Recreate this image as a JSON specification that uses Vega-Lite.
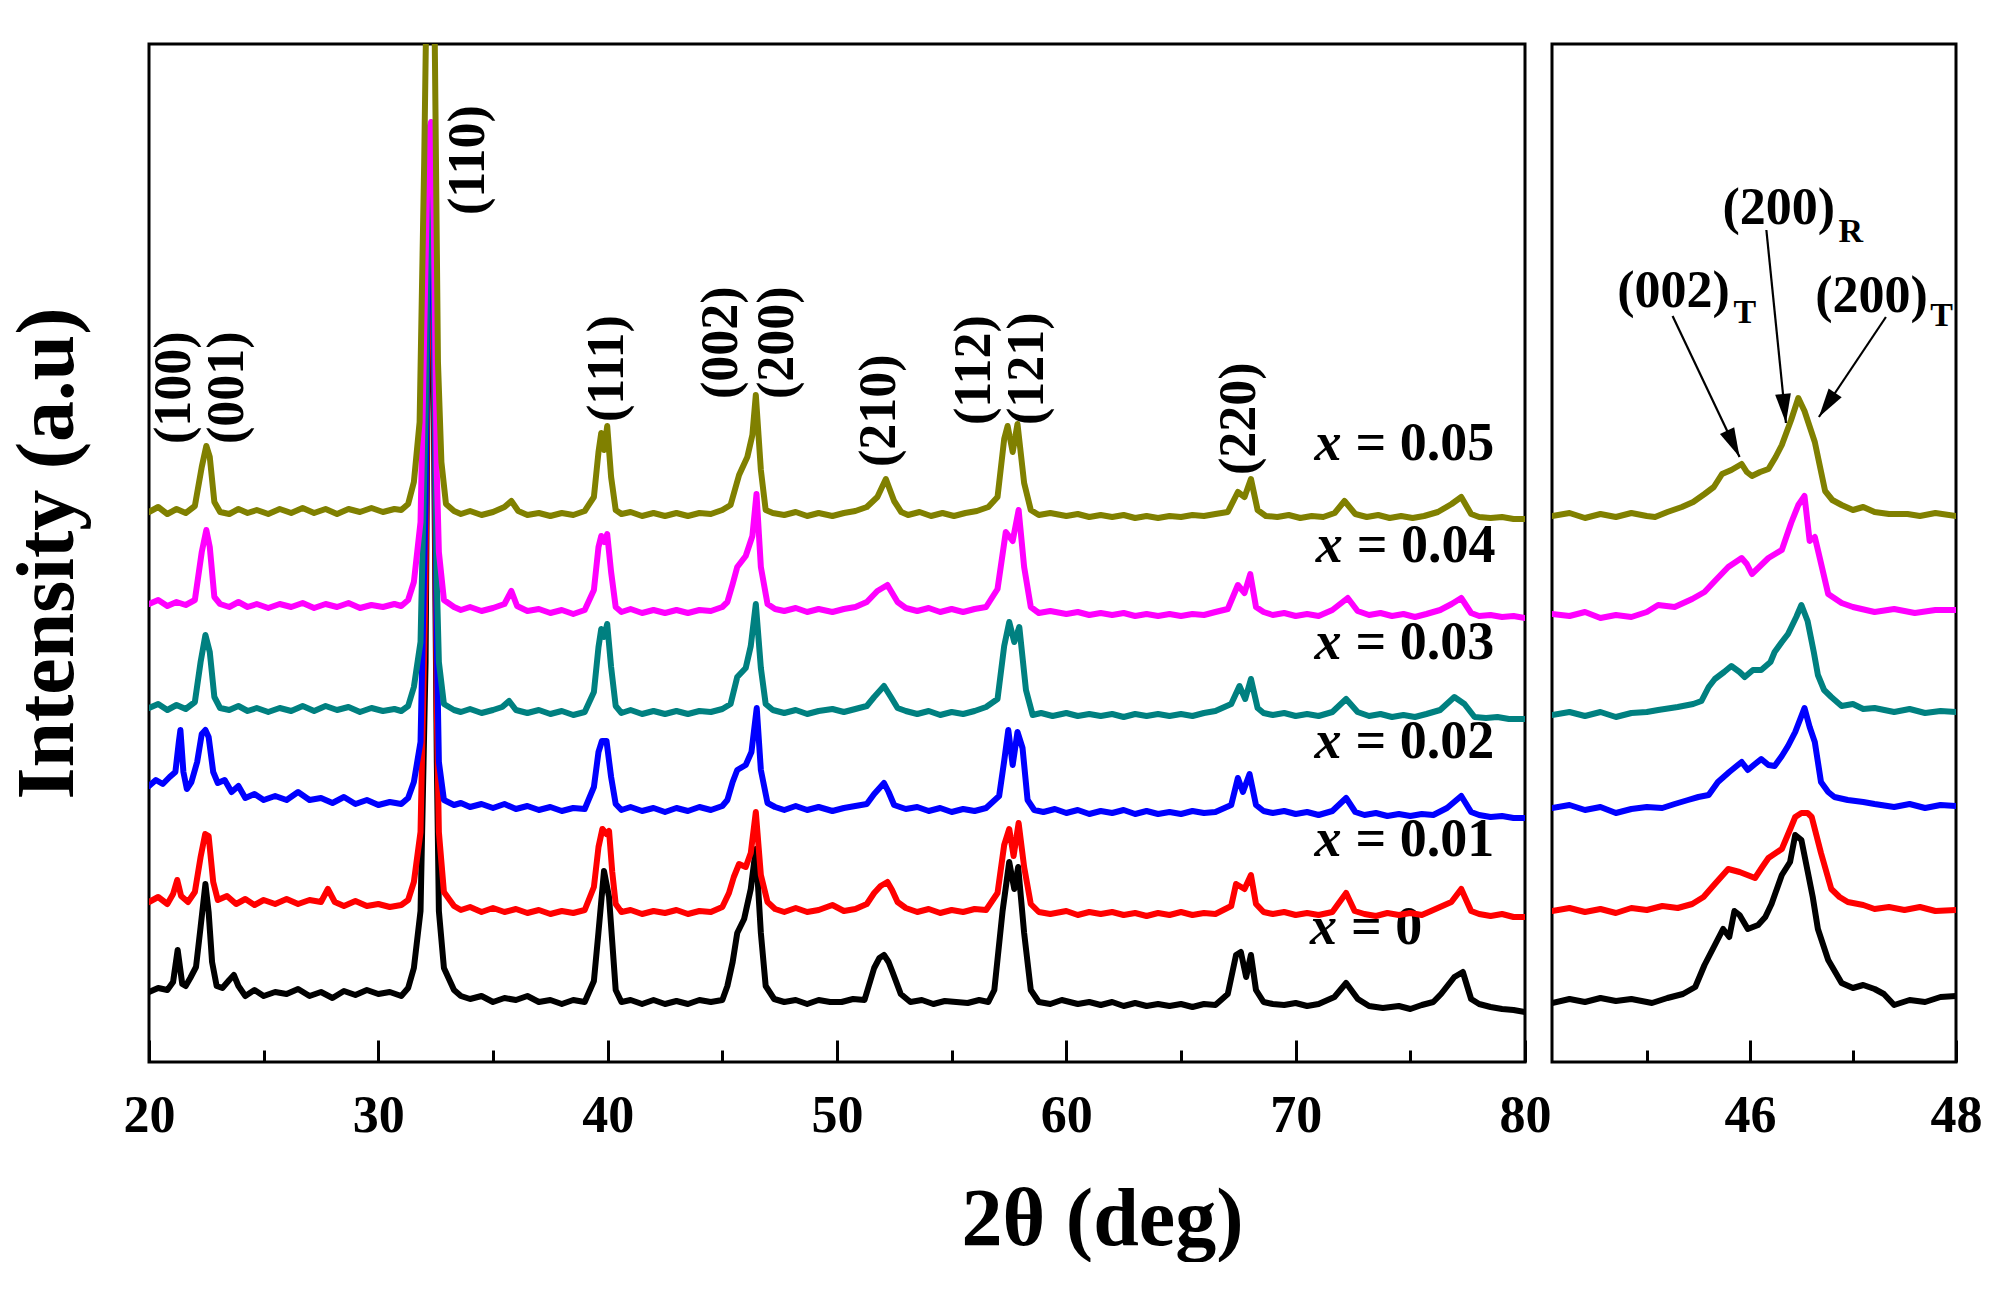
{
"$schema":"https://vega.github.io/schema/vega-lite/v6.json",
"padding":{"left":4,"top":42,"right":0,"bottom":0},
"background":"white",
"bounds":"flush",
"spacing":27,
"config":{
 "view":{"stroke":"black","strokeWidth":3},
 "axis":{"grid":false,"domain":false,"tickColor":"black","tickWidth":3,"labelColor":"black","labelFont":"Liberation Serif","labelFontWeight":"bold","labelFontSize":52,"titleFont":"Liberation Serif","titleFontWeight":"bold","titleFontSize":82,"titleColor":"black"},
 "text":{"font":"Liberation Serif","fontWeight":"bold","color":"black"}
},
"datasets":{
"peaks":[{"lab":"(100)","t":21.07,"y":618},{"lab":"(001)","t":23.4,"y":618},{"lab":"(110)","t":33.9,"y":847},{"lab":"(111)","t":39.95,"y":640},{"lab":"(002)","t":44.95,"y":663},{"lab":"(200)","t":47.37,"y":663},{"lab":"(210)","t":51.83,"y":595},{"lab":"(112)","t":55.98,"y":637},{"lab":"(121)","t":58.27,"y":637},{"lab":"(220)","t":67.55,"y":587}],
"slab":[{"lab":"= 0.05","t":72.0,"y":618},{"lab":"= 0.04","t":72.05,"y":516},{"lab":"= 0.03","t":72.0,"y":419},{"lab":"= 0.02","t":72.0,"y":320},{"lab":"= 0.01","t":72.0,"y":222},{"lab":"= 0","t":71.8,"y":134}],
"ilab":[{"lab":"(002)","t":45.26,"y":771},{"lab":"(200)","t":46.28,"y":854},{"lab":"(200)","t":47.18,"y":766}],
"isub":[{"lab":"T","t":45.95,"y":749},{"lab":"R","t":46.98,"y":830},{"lab":"T","t":47.86,"y":746}],
"arrows":[{"t1":45.25,"y1":746,"t2":45.9,"y2":605},{"t1":46.16,"y1":832,"t2":46.35,"y2":639},{"t1":47.32,"y1":745,"t2":46.67,"y2":645}],
"main":[
{"s":"0","t":20,"y":70},{"s":"0","t":20.4,"y":74},{"s":"0","t":20.8,"y":72},{"s":"0","t":21.05,"y":80},{"s":"0","t":21.25,"y":112},{"s":"0","t":21.45,"y":78},{"s":"0","t":21.6,"y":76},{"s":"0","t":21.8,"y":84},{"s":"0","t":22.05,"y":95},{"s":"0","t":22.25,"y":135},{"s":"0","t":22.46,"y":178},{"s":"0","t":22.6,"y":150},{"s":"0","t":22.75,"y":100},{"s":"0","t":22.95,"y":76},{"s":"0","t":23.2,"y":74},{"s":"0","t":23.5,"y":82},{"s":"0","t":23.7,"y":87},{"s":"0","t":23.9,"y":76},{"s":"0","t":24.2,"y":66},{"s":"0","t":24.6,"y":72},{"s":"0","t":25,"y":66},{"s":"0","t":25.5,"y":70},{"s":"0","t":26,"y":68},{"s":"0","t":26.5,"y":73},{"s":"0","t":27,"y":66},{"s":"0","t":27.5,"y":70},{"s":"0","t":28,"y":64},{"s":"0","t":28.5,"y":71},{"s":"0","t":29,"y":67},{"s":"0","t":29.5,"y":72},{"s":"0","t":30,"y":68},{"s":"0","t":30.5,"y":70},{"s":"0","t":31,"y":66},{"s":"0","t":31.3,"y":74},{"s":"0","t":31.55,"y":94},{"s":"0","t":31.84,"y":151},{"s":"0","t":32.06,"y":400},{"s":"0","t":32.18,"y":780},{"s":"0","t":32.3,"y":850},{"s":"0","t":32.42,"y":650},{"s":"0","t":32.55,"y":300},{"s":"0","t":32.64,"y":151},{"s":"0","t":32.86,"y":94},{"s":"0","t":33.3,"y":72},{"s":"0","t":33.6,"y":66},{"s":"0","t":34,"y":63},{"s":"0","t":34.5,"y":66},{"s":"0","t":35,"y":60},{"s":"0","t":35.5,"y":64},{"s":"0","t":36,"y":62},{"s":"0","t":36.5,"y":66},{"s":"0","t":37,"y":60},{"s":"0","t":37.5,"y":62},{"s":"0","t":38,"y":58},{"s":"0","t":38.5,"y":62},{"s":"0","t":39,"y":60},{"s":"0","t":39.4,"y":81},{"s":"0","t":39.6,"y":130},{"s":"0","t":39.84,"y":191},{"s":"0","t":40.06,"y":165},{"s":"0","t":40.2,"y":120},{"s":"0","t":40.35,"y":72},{"s":"0","t":40.6,"y":60},{"s":"0","t":41,"y":62},{"s":"0","t":41.5,"y":58},{"s":"0","t":42,"y":62},{"s":"0","t":42.5,"y":58},{"s":"0","t":43,"y":61},{"s":"0","t":43.5,"y":58},{"s":"0","t":44,"y":62},{"s":"0","t":44.5,"y":60},{"s":"0","t":45,"y":62},{"s":"0","t":45.22,"y":76},{"s":"0","t":45.45,"y":100},{"s":"0","t":45.65,"y":129},{"s":"0","t":45.95,"y":143},{"s":"0","t":46.24,"y":173},{"s":"0","t":46.46,"y":213},{"s":"0","t":46.68,"y":129},{"s":"0","t":46.89,"y":76},{"s":"0","t":47.26,"y":63},{"s":"0","t":47.7,"y":60},{"s":"0","t":48.2,"y":62},{"s":"0","t":48.7,"y":58},{"s":"0","t":49.2,"y":62},{"s":"0","t":49.7,"y":60},{"s":"0","t":50.2,"y":60},{"s":"0","t":50.7,"y":63},{"s":"0","t":51.2,"y":62},{"s":"0","t":51.62,"y":94},{"s":"0","t":51.85,"y":104},{"s":"0","t":52.05,"y":107},{"s":"0","t":52.25,"y":100},{"s":"0","t":52.42,"y":90},{"s":"0","t":52.78,"y":68},{"s":"0","t":53.2,"y":60},{"s":"0","t":53.7,"y":62},{"s":"0","t":54.2,"y":58},{"s":"0","t":54.7,"y":61},{"s":"0","t":55.2,"y":60},{"s":"0","t":55.7,"y":59},{"s":"0","t":56.2,"y":62},{"s":"0","t":56.6,"y":60},{"s":"0","t":56.86,"y":72},{"s":"0","t":57.22,"y":151},{"s":"0","t":57.51,"y":200},{"s":"0","t":57.73,"y":173},{"s":"0","t":57.9,"y":195},{"s":"0","t":58.16,"y":129},{"s":"0","t":58.45,"y":72},{"s":"0","t":58.8,"y":60},{"s":"0","t":59.3,"y":58},{"s":"0","t":59.8,"y":62},{"s":"0","t":60.5,"y":58},{"s":"0","t":61,"y":60},{"s":"0","t":61.5,"y":57},{"s":"0","t":62,"y":60},{"s":"0","t":62.5,"y":56},{"s":"0","t":63,"y":59},{"s":"0","t":63.5,"y":56},{"s":"0","t":64,"y":58},{"s":"0","t":64.5,"y":56},{"s":"0","t":65,"y":58},{"s":"0","t":65.5,"y":55},{"s":"0","t":66,"y":58},{"s":"0","t":66.5,"y":57},{"s":"0","t":67.04,"y":68},{"s":"0","t":67.4,"y":107},{"s":"0","t":67.61,"y":110},{"s":"0","t":67.84,"y":85},{"s":"0","t":68.05,"y":107},{"s":"0","t":68.27,"y":72},{"s":"0","t":68.6,"y":60},{"s":"0","t":69,"y":58},{"s":"0","t":69.5,"y":57},{"s":"0","t":70,"y":59},{"s":"0","t":70.5,"y":56},{"s":"0","t":71,"y":58},{"s":"0","t":71.69,"y":65},{"s":"0","t":72.2,"y":79},{"s":"0","t":72.71,"y":63},{"s":"0","t":73.2,"y":56},{"s":"0","t":73.8,"y":54},{"s":"0","t":74.5,"y":56},{"s":"0","t":75,"y":53},{"s":"0","t":75.5,"y":57},{"s":"0","t":76,"y":60},{"s":"0","t":76.34,"y":68},{"s":"0","t":76.92,"y":85},{"s":"0","t":77.29,"y":90},{"s":"0","t":77.65,"y":63},{"s":"0","t":78,"y":58},{"s":"0","t":78.5,"y":55},{"s":"0","t":79,"y":53},{"s":"0","t":79.5,"y":52},{"s":"0","t":80,"y":50},
{"s":"0.01","t":20,"y":160},{"s":"0.01","t":20.4,"y":165},{"s":"0.01","t":20.8,"y":158},{"s":"0.01","t":21.05,"y":168},{"s":"0.01","t":21.23,"y":182},{"s":"0.01","t":21.4,"y":166},{"s":"0.01","t":21.7,"y":160},{"s":"0.01","t":22.0,"y":170},{"s":"0.01","t":22.25,"y":205},{"s":"0.01","t":22.45,"y":228},{"s":"0.01","t":22.6,"y":226},{"s":"0.01","t":22.8,"y":180},{"s":"0.01","t":23.0,"y":162},{"s":"0.01","t":23.4,"y":166},{"s":"0.01","t":23.8,"y":158},{"s":"0.01","t":24.2,"y":163},{"s":"0.01","t":24.6,"y":157},{"s":"0.01","t":25,"y":162},{"s":"0.01","t":25.5,"y":158},{"s":"0.01","t":26,"y":163},{"s":"0.01","t":26.5,"y":158},{"s":"0.01","t":27,"y":162},{"s":"0.01","t":27.5,"y":160},{"s":"0.01","t":27.8,"y":173},{"s":"0.01","t":28.1,"y":160},{"s":"0.01","t":28.5,"y":156},{"s":"0.01","t":29,"y":161},{"s":"0.01","t":29.5,"y":156},{"s":"0.01","t":30,"y":158},{"s":"0.01","t":30.5,"y":155},{"s":"0.01","t":31,"y":157},{"s":"0.01","t":31.3,"y":162},{"s":"0.01","t":31.55,"y":180},{"s":"0.01","t":31.84,"y":230},{"s":"0.01","t":32.06,"y":480},{"s":"0.01","t":32.18,"y":800},{"s":"0.01","t":32.3,"y":860},{"s":"0.01","t":32.42,"y":700},{"s":"0.01","t":32.55,"y":350},{"s":"0.01","t":32.64,"y":230},{"s":"0.01","t":32.86,"y":170},{"s":"0.01","t":33.3,"y":156},{"s":"0.01","t":33.6,"y":152},{"s":"0.01","t":34,"y":155},{"s":"0.01","t":34.5,"y":150},{"s":"0.01","t":35,"y":154},{"s":"0.01","t":35.5,"y":150},{"s":"0.01","t":36,"y":153},{"s":"0.01","t":36.5,"y":149},{"s":"0.01","t":37,"y":152},{"s":"0.01","t":37.5,"y":148},{"s":"0.01","t":38,"y":151},{"s":"0.01","t":38.5,"y":149},{"s":"0.01","t":39,"y":152},{"s":"0.01","t":39.4,"y":175},{"s":"0.01","t":39.6,"y":215},{"s":"0.01","t":39.77,"y":233},{"s":"0.01","t":39.95,"y":228},{"s":"0.01","t":40.06,"y":231},{"s":"0.01","t":40.2,"y":190},{"s":"0.01","t":40.35,"y":158},{"s":"0.01","t":40.6,"y":150},{"s":"0.01","t":41,"y":152},{"s":"0.01","t":41.5,"y":148},{"s":"0.01","t":42,"y":151},{"s":"0.01","t":42.5,"y":149},{"s":"0.01","t":43,"y":152},{"s":"0.01","t":43.5,"y":148},{"s":"0.01","t":44,"y":151},{"s":"0.01","t":44.5,"y":150},{"s":"0.01","t":45,"y":155},{"s":"0.01","t":45.29,"y":169},{"s":"0.01","t":45.5,"y":185},{"s":"0.01","t":45.73,"y":198},{"s":"0.01","t":46.02,"y":195},{"s":"0.01","t":46.24,"y":209},{"s":"0.01","t":46.46,"y":250},{"s":"0.01","t":46.68,"y":187},{"s":"0.01","t":46.97,"y":160},{"s":"0.01","t":47.3,"y":153},{"s":"0.01","t":47.7,"y":150},{"s":"0.01","t":48.2,"y":154},{"s":"0.01","t":48.7,"y":150},{"s":"0.01","t":49.2,"y":152},{"s":"0.01","t":49.8,"y":157},{"s":"0.01","t":50.3,"y":151},{"s":"0.01","t":50.8,"y":153},{"s":"0.01","t":51.3,"y":158},{"s":"0.01","t":51.62,"y":169},{"s":"0.01","t":51.9,"y":176},{"s":"0.01","t":52.2,"y":180},{"s":"0.01","t":52.4,"y":172},{"s":"0.01","t":52.64,"y":160},{"s":"0.01","t":53,"y":154},{"s":"0.01","t":53.5,"y":150},{"s":"0.01","t":54,"y":153},{"s":"0.01","t":54.5,"y":149},{"s":"0.01","t":55,"y":152},{"s":"0.01","t":55.5,"y":150},{"s":"0.01","t":56,"y":153},{"s":"0.01","t":56.5,"y":152},{"s":"0.01","t":57.0,"y":169},{"s":"0.01","t":57.29,"y":217},{"s":"0.01","t":57.51,"y":233},{"s":"0.01","t":57.7,"y":206},{"s":"0.01","t":57.92,"y":239},{"s":"0.01","t":58.16,"y":195},{"s":"0.01","t":58.45,"y":158},{"s":"0.01","t":58.8,"y":150},{"s":"0.01","t":59.3,"y":148},{"s":"0.01","t":60,"y":151},{"s":"0.01","t":60.5,"y":147},{"s":"0.01","t":61,"y":150},{"s":"0.01","t":61.5,"y":148},{"s":"0.01","t":62,"y":150},{"s":"0.01","t":62.5,"y":147},{"s":"0.01","t":63,"y":149},{"s":"0.01","t":63.5,"y":146},{"s":"0.01","t":64,"y":149},{"s":"0.01","t":64.5,"y":147},{"s":"0.01","t":65,"y":150},{"s":"0.01","t":65.5,"y":147},{"s":"0.01","t":66,"y":149},{"s":"0.01","t":66.5,"y":148},{"s":"0.01","t":67.19,"y":156},{"s":"0.01","t":67.4,"y":178},{"s":"0.01","t":67.77,"y":173},{"s":"0.01","t":68.05,"y":187},{"s":"0.01","t":68.27,"y":158},{"s":"0.01","t":68.6,"y":150},{"s":"0.01","t":69,"y":148},{"s":"0.01","t":69.5,"y":150},{"s":"0.01","t":70,"y":147},{"s":"0.01","t":70.5,"y":149},{"s":"0.01","t":71,"y":147},{"s":"0.01","t":71.6,"y":150},{"s":"0.01","t":72.2,"y":169},{"s":"0.01","t":72.57,"y":151},{"s":"0.01","t":73,"y":148},{"s":"0.01","t":73.5,"y":146},{"s":"0.01","t":74,"y":149},{"s":"0.01","t":74.5,"y":147},{"s":"0.01","t":75,"y":149},{"s":"0.01","t":75.5,"y":147},{"s":"0.01","t":76,"y":152},{"s":"0.01","t":76.79,"y":160},{"s":"0.01","t":77.22,"y":173},{"s":"0.01","t":77.65,"y":151},{"s":"0.01","t":78,"y":148},{"s":"0.01","t":78.5,"y":146},{"s":"0.01","t":79,"y":148},{"s":"0.01","t":79.5,"y":145},{"s":"0.01","t":80,"y":145},
{"s":"0.02","t":20,"y":276},{"s":"0.02","t":20.3,"y":282},{"s":"0.02","t":20.6,"y":278},{"s":"0.02","t":20.9,"y":285},{"s":"0.02","t":21.15,"y":290},{"s":"0.02","t":21.3,"y":320},{"s":"0.02","t":21.37,"y":332},{"s":"0.02","t":21.5,"y":290},{"s":"0.02","t":21.65,"y":273},{"s":"0.02","t":21.85,"y":280},{"s":"0.02","t":22.1,"y":300},{"s":"0.02","t":22.3,"y":328},{"s":"0.02","t":22.46,"y":332},{"s":"0.02","t":22.6,"y":325},{"s":"0.02","t":22.8,"y":290},{"s":"0.02","t":23.0,"y":279},{"s":"0.02","t":23.3,"y":282},{"s":"0.02","t":23.6,"y":270},{"s":"0.02","t":23.9,"y":276},{"s":"0.02","t":24.2,"y":264},{"s":"0.02","t":24.6,"y":268},{"s":"0.02","t":25,"y":262},{"s":"0.02","t":25.5,"y":266},{"s":"0.02","t":26,"y":262},{"s":"0.02","t":26.5,"y":270},{"s":"0.02","t":27,"y":262},{"s":"0.02","t":27.5,"y":264},{"s":"0.02","t":28,"y":259},{"s":"0.02","t":28.5,"y":265},{"s":"0.02","t":29,"y":258},{"s":"0.02","t":29.5,"y":262},{"s":"0.02","t":30,"y":257},{"s":"0.02","t":30.5,"y":260},{"s":"0.02","t":31,"y":258},{"s":"0.02","t":31.3,"y":264},{"s":"0.02","t":31.55,"y":280},{"s":"0.02","t":31.84,"y":320},{"s":"0.02","t":32.06,"y":560},{"s":"0.02","t":32.18,"y":840},{"s":"0.02","t":32.3,"y":880},{"s":"0.02","t":32.42,"y":740},{"s":"0.02","t":32.55,"y":420},{"s":"0.02","t":32.64,"y":300},{"s":"0.02","t":32.86,"y":262},{"s":"0.02","t":33.3,"y":257},{"s":"0.02","t":33.6,"y":259},{"s":"0.02","t":34,"y":255},{"s":"0.02","t":34.5,"y":258},{"s":"0.02","t":35,"y":254},{"s":"0.02","t":35.5,"y":258},{"s":"0.02","t":36,"y":253},{"s":"0.02","t":36.5,"y":256},{"s":"0.02","t":37,"y":252},{"s":"0.02","t":37.5,"y":255},{"s":"0.02","t":38,"y":251},{"s":"0.02","t":38.5,"y":254},{"s":"0.02","t":39,"y":253},{"s":"0.02","t":39.4,"y":275},{"s":"0.02","t":39.6,"y":310},{"s":"0.02","t":39.75,"y":321},{"s":"0.02","t":39.95,"y":321},{"s":"0.02","t":40.15,"y":285},{"s":"0.02","t":40.35,"y":258},{"s":"0.02","t":40.6,"y":252},{"s":"0.02","t":41,"y":255},{"s":"0.02","t":41.5,"y":251},{"s":"0.02","t":42,"y":254},{"s":"0.02","t":42.5,"y":250},{"s":"0.02","t":43,"y":254},{"s":"0.02","t":43.5,"y":251},{"s":"0.02","t":44,"y":255},{"s":"0.02","t":44.5,"y":252},{"s":"0.02","t":45,"y":256},{"s":"0.02","t":45.22,"y":262},{"s":"0.02","t":45.45,"y":280},{"s":"0.02","t":45.65,"y":292},{"s":"0.02","t":46.02,"y":297},{"s":"0.02","t":46.27,"y":310},{"s":"0.02","t":46.5,"y":354},{"s":"0.02","t":46.68,"y":292},{"s":"0.02","t":46.97,"y":259},{"s":"0.02","t":47.3,"y":255},{"s":"0.02","t":47.7,"y":252},{"s":"0.02","t":48.2,"y":256},{"s":"0.02","t":48.7,"y":252},{"s":"0.02","t":49.2,"y":255},{"s":"0.02","t":49.8,"y":251},{"s":"0.02","t":50.3,"y":254},{"s":"0.02","t":50.8,"y":256},{"s":"0.02","t":51.3,"y":258},{"s":"0.02","t":51.62,"y":268},{"s":"0.02","t":52.05,"y":279},{"s":"0.02","t":52.25,"y":270},{"s":"0.02","t":52.49,"y":257},{"s":"0.02","t":53,"y":253},{"s":"0.02","t":53.5,"y":255},{"s":"0.02","t":54,"y":251},{"s":"0.02","t":54.5,"y":254},{"s":"0.02","t":55,"y":250},{"s":"0.02","t":55.5,"y":253},{"s":"0.02","t":56,"y":251},{"s":"0.02","t":56.5,"y":254},{"s":"0.02","t":57.07,"y":266},{"s":"0.02","t":57.29,"y":301},{"s":"0.02","t":57.47,"y":332},{"s":"0.02","t":57.66,"y":297},{"s":"0.02","t":57.87,"y":330},{"s":"0.02","t":58.09,"y":314},{"s":"0.02","t":58.31,"y":262},{"s":"0.02","t":58.6,"y":252},{"s":"0.02","t":59,"y":250},{"s":"0.02","t":59.5,"y":253},{"s":"0.02","t":60,"y":249},{"s":"0.02","t":60.5,"y":252},{"s":"0.02","t":61,"y":248},{"s":"0.02","t":61.5,"y":251},{"s":"0.02","t":62,"y":249},{"s":"0.02","t":62.5,"y":252},{"s":"0.02","t":63,"y":248},{"s":"0.02","t":63.5,"y":251},{"s":"0.02","t":64,"y":248},{"s":"0.02","t":64.5,"y":250},{"s":"0.02","t":65,"y":248},{"s":"0.02","t":65.5,"y":251},{"s":"0.02","t":66,"y":249},{"s":"0.02","t":66.5,"y":250},{"s":"0.02","t":67.19,"y":257},{"s":"0.02","t":67.48,"y":284},{"s":"0.02","t":67.7,"y":270},{"s":"0.02","t":67.99,"y":288},{"s":"0.02","t":68.27,"y":257},{"s":"0.02","t":68.6,"y":251},{"s":"0.02","t":69,"y":249},{"s":"0.02","t":69.5,"y":251},{"s":"0.02","t":70,"y":248},{"s":"0.02","t":70.5,"y":250},{"s":"0.02","t":71,"y":247},{"s":"0.02","t":71.6,"y":251},{"s":"0.02","t":72.2,"y":264},{"s":"0.02","t":72.6,"y":250},{"s":"0.02","t":73,"y":247},{"s":"0.02","t":73.5,"y":249},{"s":"0.02","t":74,"y":246},{"s":"0.02","t":74.5,"y":248},{"s":"0.02","t":75,"y":246},{"s":"0.02","t":75.5,"y":248},{"s":"0.02","t":76,"y":247},{"s":"0.02","t":76.6,"y":254},{"s":"0.02","t":77.22,"y":266},{"s":"0.02","t":77.65,"y":250},{"s":"0.02","t":78,"y":247},{"s":"0.02","t":78.5,"y":245},{"s":"0.02","t":79,"y":246},{"s":"0.02","t":79.5,"y":244},{"s":"0.02","t":80,"y":244},
{"s":"0.03","t":20,"y":354},{"s":"0.03","t":20.4,"y":358},{"s":"0.03","t":20.8,"y":352},{"s":"0.03","t":21.2,"y":357},{"s":"0.03","t":21.6,"y":353},{"s":"0.03","t":22.0,"y":360},{"s":"0.03","t":22.25,"y":400},{"s":"0.03","t":22.46,"y":427},{"s":"0.03","t":22.65,"y":410},{"s":"0.03","t":22.85,"y":365},{"s":"0.03","t":23.1,"y":354},{"s":"0.03","t":23.5,"y":352},{"s":"0.03","t":23.9,"y":356},{"s":"0.03","t":24.3,"y":351},{"s":"0.03","t":24.7,"y":354},{"s":"0.03","t":25.2,"y":350},{"s":"0.03","t":25.7,"y":354},{"s":"0.03","t":26.2,"y":351},{"s":"0.03","t":26.7,"y":356},{"s":"0.03","t":27.2,"y":351},{"s":"0.03","t":27.7,"y":356},{"s":"0.03","t":28.2,"y":352},{"s":"0.03","t":28.7,"y":355},{"s":"0.03","t":29.2,"y":350},{"s":"0.03","t":29.7,"y":354},{"s":"0.03","t":30.2,"y":351},{"s":"0.03","t":30.7,"y":353},{"s":"0.03","t":31,"y":351},{"s":"0.03","t":31.3,"y":356},{"s":"0.03","t":31.55,"y":375},{"s":"0.03","t":31.84,"y":420},{"s":"0.03","t":32.06,"y":650},{"s":"0.03","t":32.18,"y":870},{"s":"0.03","t":32.3,"y":900},{"s":"0.03","t":32.42,"y":780},{"s":"0.03","t":32.55,"y":480},{"s":"0.03","t":32.64,"y":400},{"s":"0.03","t":32.86,"y":358},{"s":"0.03","t":33.3,"y":352},{"s":"0.03","t":33.6,"y":350},{"s":"0.03","t":34,"y":353},{"s":"0.03","t":34.5,"y":349},{"s":"0.03","t":35,"y":352},{"s":"0.03","t":35.4,"y":355},{"s":"0.03","t":35.7,"y":361},{"s":"0.03","t":36,"y":352},{"s":"0.03","t":36.5,"y":349},{"s":"0.03","t":37,"y":352},{"s":"0.03","t":37.5,"y":348},{"s":"0.03","t":38,"y":351},{"s":"0.03","t":38.5,"y":347},{"s":"0.03","t":39,"y":350},{"s":"0.03","t":39.4,"y":370},{"s":"0.03","t":39.6,"y":415},{"s":"0.03","t":39.72,"y":433},{"s":"0.03","t":39.84,"y":425},{"s":"0.03","t":39.98,"y":438},{"s":"0.03","t":40.15,"y":395},{"s":"0.03","t":40.35,"y":356},{"s":"0.03","t":40.6,"y":349},{"s":"0.03","t":41,"y":352},{"s":"0.03","t":41.5,"y":348},{"s":"0.03","t":42,"y":351},{"s":"0.03","t":42.5,"y":348},{"s":"0.03","t":43,"y":351},{"s":"0.03","t":43.5,"y":348},{"s":"0.03","t":44,"y":351},{"s":"0.03","t":44.5,"y":350},{"s":"0.03","t":45,"y":353},{"s":"0.03","t":45.36,"y":358},{"s":"0.03","t":45.65,"y":385},{"s":"0.03","t":46.02,"y":394},{"s":"0.03","t":46.24,"y":416},{"s":"0.03","t":46.46,"y":458},{"s":"0.03","t":46.68,"y":394},{"s":"0.03","t":46.89,"y":358},{"s":"0.03","t":47.2,"y":352},{"s":"0.03","t":47.7,"y":349},{"s":"0.03","t":48.2,"y":352},{"s":"0.03","t":48.7,"y":348},{"s":"0.03","t":49.2,"y":351},{"s":"0.03","t":49.8,"y":353},{"s":"0.03","t":50.3,"y":350},{"s":"0.03","t":50.8,"y":353},{"s":"0.03","t":51.3,"y":356},{"s":"0.03","t":51.62,"y":365},{"s":"0.03","t":52.05,"y":376},{"s":"0.03","t":52.35,"y":365},{"s":"0.03","t":52.64,"y":354},{"s":"0.03","t":53,"y":351},{"s":"0.03","t":53.5,"y":348},{"s":"0.03","t":54,"y":351},{"s":"0.03","t":54.5,"y":347},{"s":"0.03","t":55,"y":350},{"s":"0.03","t":55.5,"y":348},{"s":"0.03","t":56,"y":351},{"s":"0.03","t":56.5,"y":355},{"s":"0.03","t":57.0,"y":363},{"s":"0.03","t":57.29,"y":416},{"s":"0.03","t":57.51,"y":440},{"s":"0.03","t":57.73,"y":420},{"s":"0.03","t":57.95,"y":435},{"s":"0.03","t":58.24,"y":372},{"s":"0.03","t":58.53,"y":347},{"s":"0.03","t":58.9,"y":349},{"s":"0.03","t":59.4,"y":346},{"s":"0.03","t":60,"y":349},{"s":"0.03","t":60.5,"y":346},{"s":"0.03","t":61,"y":348},{"s":"0.03","t":61.5,"y":346},{"s":"0.03","t":62,"y":348},{"s":"0.03","t":62.5,"y":345},{"s":"0.03","t":63,"y":348},{"s":"0.03","t":63.5,"y":346},{"s":"0.03","t":64,"y":348},{"s":"0.03","t":64.5,"y":346},{"s":"0.03","t":65,"y":348},{"s":"0.03","t":65.5,"y":346},{"s":"0.03","t":66,"y":349},{"s":"0.03","t":66.5,"y":351},{"s":"0.03","t":67.19,"y":358},{"s":"0.03","t":67.55,"y":376},{"s":"0.03","t":67.8,"y":363},{"s":"0.03","t":68.05,"y":383},{"s":"0.03","t":68.34,"y":354},{"s":"0.03","t":68.6,"y":349},{"s":"0.03","t":69,"y":347},{"s":"0.03","t":69.5,"y":349},{"s":"0.03","t":70,"y":346},{"s":"0.03","t":70.5,"y":348},{"s":"0.03","t":71,"y":346},{"s":"0.03","t":71.6,"y":350},{"s":"0.03","t":72.2,"y":363},{"s":"0.03","t":72.7,"y":350},{"s":"0.03","t":73.2,"y":346},{"s":"0.03","t":73.7,"y":348},{"s":"0.03","t":74.2,"y":345},{"s":"0.03","t":74.7,"y":347},{"s":"0.03","t":75.2,"y":345},{"s":"0.03","t":75.7,"y":348},{"s":"0.03","t":76.3,"y":352},{"s":"0.03","t":76.92,"y":365},{"s":"0.03","t":77.36,"y":358},{"s":"0.03","t":77.8,"y":345},{"s":"0.03","t":78.3,"y":344},{"s":"0.03","t":78.8,"y":345},{"s":"0.03","t":79.3,"y":343},{"s":"0.03","t":80,"y":343},
{"s":"0.04","t":20,"y":458},{"s":"0.04","t":20.4,"y":462},{"s":"0.04","t":20.8,"y":456},{"s":"0.04","t":21.2,"y":460},{"s":"0.04","t":21.6,"y":457},{"s":"0.04","t":22.0,"y":462},{"s":"0.04","t":22.3,"y":510},{"s":"0.04","t":22.5,"y":532},{"s":"0.04","t":22.65,"y":515},{"s":"0.04","t":22.85,"y":465},{"s":"0.04","t":23.1,"y":458},{"s":"0.04","t":23.5,"y":455},{"s":"0.04","t":23.9,"y":460},{"s":"0.04","t":24.3,"y":455},{"s":"0.04","t":24.7,"y":458},{"s":"0.04","t":25.2,"y":454},{"s":"0.04","t":25.7,"y":458},{"s":"0.04","t":26.2,"y":455},{"s":"0.04","t":26.7,"y":459},{"s":"0.04","t":27.2,"y":454},{"s":"0.04","t":27.7,"y":458},{"s":"0.04","t":28.2,"y":455},{"s":"0.04","t":28.7,"y":459},{"s":"0.04","t":29.2,"y":454},{"s":"0.04","t":29.7,"y":457},{"s":"0.04","t":30.2,"y":455},{"s":"0.04","t":30.7,"y":458},{"s":"0.04","t":31,"y":456},{"s":"0.04","t":31.3,"y":462},{"s":"0.04","t":31.55,"y":480},{"s":"0.04","t":31.84,"y":540},{"s":"0.04","t":32.06,"y":800},{"s":"0.04","t":32.18,"y":930},{"s":"0.04","t":32.3,"y":940},{"s":"0.04","t":32.42,"y":840},{"s":"0.04","t":32.55,"y":590},{"s":"0.04","t":32.64,"y":510},{"s":"0.04","t":32.86,"y":462},{"s":"0.04","t":33.3,"y":455},{"s":"0.04","t":33.6,"y":452},{"s":"0.04","t":34,"y":455},{"s":"0.04","t":34.5,"y":451},{"s":"0.04","t":35,"y":454},{"s":"0.04","t":35.5,"y":458},{"s":"0.04","t":35.8,"y":471},{"s":"0.04","t":36.05,"y":456},{"s":"0.04","t":36.5,"y":451},{"s":"0.04","t":37,"y":453},{"s":"0.04","t":37.5,"y":449},{"s":"0.04","t":38,"y":452},{"s":"0.04","t":38.5,"y":448},{"s":"0.04","t":39,"y":452},{"s":"0.04","t":39.4,"y":472},{"s":"0.04","t":39.6,"y":515},{"s":"0.04","t":39.72,"y":526},{"s":"0.04","t":39.85,"y":520},{"s":"0.04","t":39.98,"y":528},{"s":"0.04","t":40.15,"y":490},{"s":"0.04","t":40.35,"y":455},{"s":"0.04","t":40.6,"y":450},{"s":"0.04","t":41,"y":453},{"s":"0.04","t":41.5,"y":449},{"s":"0.04","t":42,"y":452},{"s":"0.04","t":42.5,"y":449},{"s":"0.04","t":43,"y":452},{"s":"0.04","t":43.5,"y":449},{"s":"0.04","t":44,"y":452},{"s":"0.04","t":44.5,"y":451},{"s":"0.04","t":45,"y":455},{"s":"0.04","t":45.22,"y":460},{"s":"0.04","t":45.45,"y":478},{"s":"0.04","t":45.65,"y":495},{"s":"0.04","t":46.02,"y":506},{"s":"0.04","t":46.31,"y":526},{"s":"0.04","t":46.49,"y":568},{"s":"0.04","t":46.68,"y":495},{"s":"0.04","t":46.97,"y":458},{"s":"0.04","t":47.3,"y":453},{"s":"0.04","t":47.7,"y":451},{"s":"0.04","t":48.2,"y":454},{"s":"0.04","t":48.7,"y":450},{"s":"0.04","t":49.2,"y":453},{"s":"0.04","t":49.8,"y":450},{"s":"0.04","t":50.3,"y":453},{"s":"0.04","t":50.8,"y":455},{"s":"0.04","t":51.3,"y":460},{"s":"0.04","t":51.76,"y":471},{"s":"0.04","t":52.2,"y":477},{"s":"0.04","t":52.64,"y":460},{"s":"0.04","t":53,"y":454},{"s":"0.04","t":53.5,"y":451},{"s":"0.04","t":54,"y":454},{"s":"0.04","t":54.5,"y":450},{"s":"0.04","t":55,"y":453},{"s":"0.04","t":55.5,"y":450},{"s":"0.04","t":56,"y":453},{"s":"0.04","t":56.5,"y":455},{"s":"0.04","t":57.0,"y":473},{"s":"0.04","t":57.36,"y":530},{"s":"0.04","t":57.66,"y":521},{"s":"0.04","t":57.92,"y":552},{"s":"0.04","t":58.16,"y":495},{"s":"0.04","t":58.45,"y":455},{"s":"0.04","t":58.8,"y":449},{"s":"0.04","t":59.3,"y":451},{"s":"0.04","t":60,"y":448},{"s":"0.04","t":60.5,"y":450},{"s":"0.04","t":61,"y":447},{"s":"0.04","t":61.5,"y":449},{"s":"0.04","t":62,"y":447},{"s":"0.04","t":62.5,"y":449},{"s":"0.04","t":63,"y":446},{"s":"0.04","t":63.5,"y":448},{"s":"0.04","t":64,"y":446},{"s":"0.04","t":64.5,"y":448},{"s":"0.04","t":65,"y":446},{"s":"0.04","t":65.5,"y":448},{"s":"0.04","t":66,"y":447},{"s":"0.04","t":66.5,"y":450},{"s":"0.04","t":67.04,"y":453},{"s":"0.04","t":67.48,"y":477},{"s":"0.04","t":67.77,"y":469},{"s":"0.04","t":68.02,"y":488},{"s":"0.04","t":68.27,"y":455},{"s":"0.04","t":68.6,"y":450},{"s":"0.04","t":69,"y":447},{"s":"0.04","t":69.5,"y":449},{"s":"0.04","t":70,"y":446},{"s":"0.04","t":70.5,"y":448},{"s":"0.04","t":71,"y":446},{"s":"0.04","t":71.6,"y":452},{"s":"0.04","t":72.27,"y":464},{"s":"0.04","t":72.7,"y":451},{"s":"0.04","t":73.2,"y":447},{"s":"0.04","t":73.7,"y":449},{"s":"0.04","t":74.2,"y":446},{"s":"0.04","t":74.7,"y":448},{"s":"0.04","t":75.2,"y":445},{"s":"0.04","t":75.7,"y":448},{"s":"0.04","t":76.3,"y":452},{"s":"0.04","t":76.8,"y":458},{"s":"0.04","t":77.22,"y":464},{"s":"0.04","t":77.65,"y":449},{"s":"0.04","t":78,"y":446},{"s":"0.04","t":78.5,"y":447},{"s":"0.04","t":79,"y":445},{"s":"0.04","t":79.5,"y":446},{"s":"0.04","t":80,"y":444},
{"s":"0.05","t":20,"y":550},{"s":"0.05","t":20.4,"y":555},{"s":"0.05","t":20.8,"y":548},{"s":"0.05","t":21.2,"y":553},{"s":"0.05","t":21.6,"y":549},{"s":"0.05","t":22.0,"y":556},{"s":"0.05","t":22.3,"y":595},{"s":"0.05","t":22.5,"y":616},{"s":"0.05","t":22.65,"y":605},{"s":"0.05","t":22.85,"y":560},{"s":"0.05","t":23.1,"y":550},{"s":"0.05","t":23.5,"y":548},{"s":"0.05","t":23.9,"y":553},{"s":"0.05","t":24.3,"y":549},{"s":"0.05","t":24.7,"y":552},{"s":"0.05","t":25.2,"y":548},{"s":"0.05","t":25.7,"y":553},{"s":"0.05","t":26.2,"y":549},{"s":"0.05","t":26.7,"y":554},{"s":"0.05","t":27.2,"y":549},{"s":"0.05","t":27.7,"y":553},{"s":"0.05","t":28.2,"y":548},{"s":"0.05","t":28.7,"y":553},{"s":"0.05","t":29.2,"y":550},{"s":"0.05","t":29.7,"y":554},{"s":"0.05","t":30.2,"y":550},{"s":"0.05","t":30.7,"y":553},{"s":"0.05","t":31,"y":552},{"s":"0.05","t":31.3,"y":558},{"s":"0.05","t":31.55,"y":580},{"s":"0.05","t":31.8,"y":640},{"s":"0.05","t":32.0,"y":900},{"s":"0.05","t":32.12,"y":1100},{"s":"0.05","t":32.25,"y":1250},{"s":"0.05","t":32.35,"y":1250},{"s":"0.05","t":32.47,"y":1000},{"s":"0.05","t":32.6,"y":700},{"s":"0.05","t":32.75,"y":600},{"s":"0.05","t":32.95,"y":558},{"s":"0.05","t":33.3,"y":551},{"s":"0.05","t":33.6,"y":548},{"s":"0.05","t":34,"y":551},{"s":"0.05","t":34.5,"y":547},{"s":"0.05","t":35,"y":550},{"s":"0.05","t":35.5,"y":555},{"s":"0.05","t":35.8,"y":561},{"s":"0.05","t":36.1,"y":551},{"s":"0.05","t":36.5,"y":547},{"s":"0.05","t":37,"y":549},{"s":"0.05","t":37.5,"y":546},{"s":"0.05","t":38,"y":549},{"s":"0.05","t":38.5,"y":547},{"s":"0.05","t":39,"y":551},{"s":"0.05","t":39.4,"y":565},{"s":"0.05","t":39.6,"y":610},{"s":"0.05","t":39.72,"y":629},{"s":"0.05","t":39.85,"y":612},{"s":"0.05","t":39.98,"y":636},{"s":"0.05","t":40.15,"y":585},{"s":"0.05","t":40.35,"y":552},{"s":"0.05","t":40.6,"y":548},{"s":"0.05","t":41,"y":550},{"s":"0.05","t":41.5,"y":546},{"s":"0.05","t":42,"y":549},{"s":"0.05","t":42.5,"y":546},{"s":"0.05","t":43,"y":549},{"s":"0.05","t":43.5,"y":546},{"s":"0.05","t":44,"y":549},{"s":"0.05","t":44.5,"y":548},{"s":"0.05","t":45,"y":552},{"s":"0.05","t":45.36,"y":557},{"s":"0.05","t":45.73,"y":587},{"s":"0.05","t":46.09,"y":605},{"s":"0.05","t":46.31,"y":627},{"s":"0.05","t":46.46,"y":667},{"s":"0.05","t":46.68,"y":592},{"s":"0.05","t":46.89,"y":552},{"s":"0.05","t":47.2,"y":549},{"s":"0.05","t":47.7,"y":547},{"s":"0.05","t":48.2,"y":550},{"s":"0.05","t":48.7,"y":546},{"s":"0.05","t":49.2,"y":549},{"s":"0.05","t":49.8,"y":546},{"s":"0.05","t":50.3,"y":549},{"s":"0.05","t":50.8,"y":551},{"s":"0.05","t":51.3,"y":555},{"s":"0.05","t":51.76,"y":565},{"s":"0.05","t":52.13,"y":583},{"s":"0.05","t":52.49,"y":561},{"s":"0.05","t":52.8,"y":550},{"s":"0.05","t":53.1,"y":547},{"s":"0.05","t":53.6,"y":550},{"s":"0.05","t":54.1,"y":546},{"s":"0.05","t":54.6,"y":549},{"s":"0.05","t":55.1,"y":546},{"s":"0.05","t":55.6,"y":549},{"s":"0.05","t":56.1,"y":551},{"s":"0.05","t":56.6,"y":555},{"s":"0.05","t":57.0,"y":565},{"s":"0.05","t":57.29,"y":623},{"s":"0.05","t":57.44,"y":636},{"s":"0.05","t":57.66,"y":610},{"s":"0.05","t":57.87,"y":638},{"s":"0.05","t":58.16,"y":579},{"s":"0.05","t":58.45,"y":552},{"s":"0.05","t":58.8,"y":547},{"s":"0.05","t":59.3,"y":549},{"s":"0.05","t":60,"y":546},{"s":"0.05","t":60.5,"y":548},{"s":"0.05","t":61,"y":545},{"s":"0.05","t":61.5,"y":547},{"s":"0.05","t":62,"y":545},{"s":"0.05","t":62.5,"y":547},{"s":"0.05","t":63,"y":544},{"s":"0.05","t":63.5,"y":546},{"s":"0.05","t":64,"y":544},{"s":"0.05","t":64.5,"y":546},{"s":"0.05","t":65,"y":545},{"s":"0.05","t":65.5,"y":547},{"s":"0.05","t":66,"y":546},{"s":"0.05","t":66.5,"y":548},{"s":"0.05","t":67.04,"y":550},{"s":"0.05","t":67.48,"y":570},{"s":"0.05","t":67.77,"y":565},{"s":"0.05","t":68.05,"y":583},{"s":"0.05","t":68.34,"y":552},{"s":"0.05","t":68.7,"y":546},{"s":"0.05","t":69.2,"y":545},{"s":"0.05","t":69.7,"y":547},{"s":"0.05","t":70.2,"y":544},{"s":"0.05","t":70.7,"y":546},{"s":"0.05","t":71.2,"y":545},{"s":"0.05","t":71.7,"y":549},{"s":"0.05","t":72.13,"y":561},{"s":"0.05","t":72.6,"y":548},{"s":"0.05","t":73.1,"y":545},{"s":"0.05","t":73.6,"y":547},{"s":"0.05","t":74.1,"y":544},{"s":"0.05","t":74.6,"y":546},{"s":"0.05","t":75.1,"y":544},{"s":"0.05","t":75.6,"y":546},{"s":"0.05","t":76.2,"y":550},{"s":"0.05","t":76.8,"y":558},{"s":"0.05","t":77.22,"y":565},{"s":"0.05","t":77.65,"y":548},{"s":"0.05","t":78,"y":545},{"s":"0.05","t":78.5,"y":544},{"s":"0.05","t":79,"y":545},{"s":"0.05","t":79.5,"y":543},{"s":"0.05","t":80,"y":543}
],
"ins":[
{"s":"0","t":44.08,"y":59},{"s":"0","t":44.25,"y":63},{"s":"0","t":44.4,"y":60},{"s":"0","t":44.55,"y":64},{"s":"0","t":44.7,"y":61},{"s":"0","t":44.85,"y":63},{"s":"0","t":45.05,"y":59},{"s":"0","t":45.2,"y":64},{"s":"0","t":45.35,"y":68},{"s":"0","t":45.47,"y":75},{"s":"0","t":45.56,"y":97},{"s":"0","t":45.65,"y":115},{"s":"0","t":45.74,"y":133},{"s":"0","t":45.8,"y":125},{"s":"0","t":45.85,"y":151},{"s":"0","t":45.9,"y":147},{"s":"0","t":45.98,"y":133},{"s":"0","t":46.08,"y":137},{"s":"0","t":46.15,"y":145},{"s":"0","t":46.21,"y":158},{"s":"0","t":46.31,"y":187},{"s":"0","t":46.39,"y":200},{"s":"0","t":46.44,"y":227},{"s":"0","t":46.5,"y":222},{"s":"0","t":46.56,"y":191},{"s":"0","t":46.61,"y":165},{"s":"0","t":46.66,"y":133},{"s":"0","t":46.76,"y":102},{"s":"0","t":46.89,"y":79},{"s":"0","t":47.0,"y":74},{"s":"0","t":47.1,"y":77},{"s":"0","t":47.21,"y":73},{"s":"0","t":47.3,"y":68},{"s":"0","t":47.4,"y":57},{"s":"0","t":47.55,"y":62},{"s":"0","t":47.7,"y":60},{"s":"0","t":47.85,"y":65},{"s":"0","t":48,"y":66},
{"s":"0.01","t":44.08,"y":151},{"s":"0.01","t":44.25,"y":154},{"s":"0.01","t":44.4,"y":150},{"s":"0.01","t":44.55,"y":153},{"s":"0.01","t":44.7,"y":149},{"s":"0.01","t":44.85,"y":154},{"s":"0.01","t":45.0,"y":152},{"s":"0.01","t":45.15,"y":156},{"s":"0.01","t":45.3,"y":154},{"s":"0.01","t":45.44,"y":158},{"s":"0.01","t":45.55,"y":165},{"s":"0.01","t":45.66,"y":178},{"s":"0.01","t":45.79,"y":193},{"s":"0.01","t":45.9,"y":190},{"s":"0.01","t":46.05,"y":184},{"s":"0.01","t":46.12,"y":195},{"s":"0.01","t":46.18,"y":204},{"s":"0.01","t":46.31,"y":213},{"s":"0.01","t":46.4,"y":235},{"s":"0.01","t":46.44,"y":245},{"s":"0.01","t":46.5,"y":249},{"s":"0.01","t":46.56,"y":249},{"s":"0.01","t":46.6,"y":245},{"s":"0.01","t":46.69,"y":209},{"s":"0.01","t":46.79,"y":173},{"s":"0.01","t":46.87,"y":165},{"s":"0.01","t":46.95,"y":160},{"s":"0.01","t":47.1,"y":157},{"s":"0.01","t":47.21,"y":153},{"s":"0.01","t":47.35,"y":155},{"s":"0.01","t":47.5,"y":152},{"s":"0.01","t":47.65,"y":155},{"s":"0.01","t":47.8,"y":151},{"s":"0.01","t":48,"y":152},
{"s":"0.02","t":44.08,"y":254},{"s":"0.02","t":44.25,"y":257},{"s":"0.02","t":44.4,"y":252},{"s":"0.02","t":44.55,"y":255},{"s":"0.02","t":44.7,"y":249},{"s":"0.02","t":44.85,"y":253},{"s":"0.02","t":45.0,"y":255},{"s":"0.02","t":45.15,"y":254},{"s":"0.02","t":45.27,"y":258},{"s":"0.02","t":45.4,"y":262},{"s":"0.02","t":45.5,"y":265},{"s":"0.02","t":45.6,"y":267},{"s":"0.02","t":45.69,"y":280},{"s":"0.02","t":45.8,"y":290},{"s":"0.02","t":45.92,"y":300},{"s":"0.02","t":45.98,"y":292},{"s":"0.02","t":46.05,"y":298},{"s":"0.02","t":46.11,"y":303},{"s":"0.02","t":46.18,"y":297},{"s":"0.02","t":46.24,"y":296},{"s":"0.02","t":46.31,"y":306},{"s":"0.02","t":46.37,"y":316},{"s":"0.02","t":46.44,"y":330},{"s":"0.02","t":46.47,"y":338},{"s":"0.02","t":46.53,"y":354},{"s":"0.02","t":46.58,"y":335},{"s":"0.02","t":46.63,"y":320},{"s":"0.02","t":46.69,"y":280},{"s":"0.02","t":46.76,"y":270},{"s":"0.02","t":46.82,"y":265},{"s":"0.02","t":46.95,"y":262},{"s":"0.02","t":47.1,"y":260},{"s":"0.02","t":47.21,"y":258},{"s":"0.02","t":47.4,"y":255},{"s":"0.02","t":47.55,"y":258},{"s":"0.02","t":47.7,"y":254},{"s":"0.02","t":47.85,"y":257},{"s":"0.02","t":48,"y":256},
{"s":"0.03","t":44.08,"y":347},{"s":"0.03","t":44.25,"y":350},{"s":"0.03","t":44.4,"y":346},{"s":"0.03","t":44.55,"y":350},{"s":"0.03","t":44.7,"y":345},{"s":"0.03","t":44.85,"y":349},{"s":"0.03","t":45.0,"y":350},{"s":"0.03","t":45.11,"y":352},{"s":"0.03","t":45.3,"y":355},{"s":"0.03","t":45.45,"y":358},{"s":"0.03","t":45.53,"y":361},{"s":"0.03","t":45.6,"y":375},{"s":"0.03","t":45.66,"y":383},{"s":"0.03","t":45.75,"y":390},{"s":"0.03","t":45.82,"y":396},{"s":"0.03","t":45.9,"y":390},{"s":"0.03","t":45.95,"y":385},{"s":"0.03","t":46.03,"y":392},{"s":"0.03","t":46.11,"y":392},{"s":"0.03","t":46.2,"y":400},{"s":"0.03","t":46.24,"y":410},{"s":"0.03","t":46.31,"y":420},{"s":"0.03","t":46.37,"y":428},{"s":"0.03","t":46.45,"y":445},{"s":"0.03","t":46.5,"y":457},{"s":"0.03","t":46.56,"y":441},{"s":"0.03","t":46.62,"y":410},{"s":"0.03","t":46.66,"y":387},{"s":"0.03","t":46.72,"y":372},{"s":"0.03","t":46.79,"y":365},{"s":"0.03","t":46.89,"y":356},{"s":"0.03","t":47.0,"y":358},{"s":"0.03","t":47.1,"y":353},{"s":"0.03","t":47.21,"y":354},{"s":"0.03","t":47.4,"y":350},{"s":"0.03","t":47.55,"y":353},{"s":"0.03","t":47.7,"y":349},{"s":"0.03","t":47.85,"y":351},{"s":"0.03","t":48,"y":350},
{"s":"0.04","t":44.08,"y":448},{"s":"0.04","t":44.25,"y":446},{"s":"0.04","t":44.4,"y":450},{"s":"0.04","t":44.55,"y":444},{"s":"0.04","t":44.7,"y":447},{"s":"0.04","t":44.85,"y":445},{"s":"0.04","t":45.0,"y":450},{"s":"0.04","t":45.11,"y":457},{"s":"0.04","t":45.27,"y":455},{"s":"0.04","t":45.44,"y":463},{"s":"0.04","t":45.56,"y":470},{"s":"0.04","t":45.66,"y":481},{"s":"0.04","t":45.79,"y":495},{"s":"0.04","t":45.92,"y":504},{"s":"0.04","t":45.97,"y":498},{"s":"0.04","t":46.02,"y":488},{"s":"0.04","t":46.1,"y":496},{"s":"0.04","t":46.18,"y":504},{"s":"0.04","t":46.31,"y":512},{"s":"0.04","t":46.4,"y":539},{"s":"0.04","t":46.47,"y":557},{"s":"0.04","t":46.53,"y":566},{"s":"0.04","t":46.58,"y":521},{"s":"0.04","t":46.63,"y":525},{"s":"0.04","t":46.66,"y":512},{"s":"0.04","t":46.76,"y":468},{"s":"0.04","t":46.89,"y":459},{"s":"0.04","t":47.0,"y":455},{"s":"0.04","t":47.21,"y":450},{"s":"0.04","t":47.4,"y":453},{"s":"0.04","t":47.6,"y":449},{"s":"0.04","t":47.8,"y":452},{"s":"0.04","t":48,"y":452},
{"s":"0.05","t":44.08,"y":546},{"s":"0.05","t":44.25,"y":549},{"s":"0.05","t":44.4,"y":544},{"s":"0.05","t":44.55,"y":548},{"s":"0.05","t":44.7,"y":545},{"s":"0.05","t":44.85,"y":549},{"s":"0.05","t":45.0,"y":546},{"s":"0.05","t":45.08,"y":545},{"s":"0.05","t":45.2,"y":550},{"s":"0.05","t":45.34,"y":555},{"s":"0.05","t":45.45,"y":560},{"s":"0.05","t":45.56,"y":568},{"s":"0.05","t":45.65,"y":575},{"s":"0.05","t":45.73,"y":588},{"s":"0.05","t":45.82,"y":592},{"s":"0.05","t":45.92,"y":598},{"s":"0.05","t":45.97,"y":590},{"s":"0.05","t":46.02,"y":586},{"s":"0.05","t":46.1,"y":590},{"s":"0.05","t":46.18,"y":593},{"s":"0.05","t":46.25,"y":605},{"s":"0.05","t":46.31,"y":617},{"s":"0.05","t":46.4,"y":642},{"s":"0.05","t":46.47,"y":664},{"s":"0.05","t":46.53,"y":651},{"s":"0.05","t":46.63,"y":620},{"s":"0.05","t":46.73,"y":571},{"s":"0.05","t":46.8,"y":562},{"s":"0.05","t":46.89,"y":557},{"s":"0.05","t":47.0,"y":552},{"s":"0.05","t":47.1,"y":555},{"s":"0.05","t":47.21,"y":550},{"s":"0.05","t":47.35,"y":548},{"s":"0.05","t":47.53,"y":548},{"s":"0.05","t":47.65,"y":546},{"s":"0.05","t":47.8,"y":549},{"s":"0.05","t":48,"y":546}
]
},
"hconcat":[
{"width":1376,"height":1018,
 "resolve":{"axis":{"x":"independent"}},
 "layer":[
  {"data":{"name":"peaks"},
   "mark":{"type":"text","angle":270,"align":"left","baseline":"middle","fontSize":52},
   "encoding":{
    "x":{"field":"t","type":"quantitative","scale":{"domain":[20,80],"nice":false,"zero":false},"axis":{"orient":"bottom","values":[25,35,45,55,65,75],"tickSize":-12,"labels":false,"title":null}},
    "y":{"field":"y","type":"quantitative","scale":{"domain":[0,1018],"nice":false,"zero":false},"axis":{"title":"Intensity (a.u)","ticks":false,"labels":false,"titlePadding":60}},
    "text":{"field":"lab","type":"nominal"}}},
  {"data":{"name":"slab"},
   "mark":{"type":"text","align":"right","baseline":"middle","fontSize":54,"fontStyle":"italic","text":"x"},
   "encoding":{
    "x":{"field":"t","type":"quantitative","scale":{"domain":[20,80],"nice":false,"zero":false},"axis":null},
    "y":{"field":"y","type":"quantitative","scale":{"domain":[0,1018],"nice":false,"zero":false},"axis":{"title":"Intensity (a.u)","ticks":false,"labels":false,"titlePadding":60}}}},
  {"data":{"name":"slab"},
   "mark":{"type":"text","align":"left","baseline":"middle","fontSize":54,"dx":14},
   "encoding":{
    "x":{"field":"t","type":"quantitative","scale":{"domain":[20,80],"nice":false,"zero":false},"axis":null},
    "y":{"field":"y","type":"quantitative","scale":{"domain":[0,1018],"nice":false,"zero":false},"axis":{"title":"Intensity (a.u)","ticks":false,"labels":false,"titlePadding":60}},
    "text":{"field":"lab","type":"nominal"}}},
  {"data":{"name":"main"},
   "mark":{"type":"line","clip":true,"strokeWidth":6,"strokeJoin":"round","strokeCap":"round"},
   "encoding":{
    "x":{"field":"t","type":"quantitative","scale":{"domain":[20,80],"nice":false,"zero":false},"axis":{"orient":"bottom","values":[20,30,40,50,60,70,80],"format":"d","tickSize":-22,"labelPadding":50,"labelFlush":false,"labelOverlap":false,"title":"2θ (deg)","titleX":953,"titleY":117}},
    "y":{"field":"y","type":"quantitative","scale":{"domain":[0,1018],"nice":false,"zero":false},"axis":{"title":"Intensity (a.u)","ticks":false,"labels":false,"titlePadding":60}},
    "color":{"field":"s","type":"nominal","scale":{"domain":["0","0.01","0.02","0.03","0.04","0.05"],"range":["#000000","#ff0000","#0000ff","#008080","#ff00ff","#808000"]},"legend":null}}}
 ]},
{"width":404,"height":1018,
 "resolve":{"axis":{"x":"independent"}},
 "layer":[
  {"data":{"name":"ilab"},
   "mark":{"type":"text","align":"center","baseline":"middle","fontSize":52},
   "encoding":{
    "x":{"field":"t","type":"quantitative","scale":{"domain":[44.08,48],"nice":false,"zero":false},"axis":{"orient":"bottom","values":[45,47],"tickSize":-12,"labels":false,"title":null}},
    "y":{"field":"y","type":"quantitative","scale":{"domain":[0,1018],"nice":false,"zero":false},"axis":null},
    "text":{"field":"lab","type":"nominal"}}},
  {"data":{"name":"isub"},
   "mark":{"type":"text","align":"center","baseline":"middle","fontSize":34},
   "encoding":{
    "x":{"field":"t","type":"quantitative","scale":{"domain":[44.08,48],"nice":false,"zero":false},"axis":null},
    "y":{"field":"y","type":"quantitative","scale":{"domain":[0,1018],"nice":false,"zero":false},"axis":null},
    "text":{"field":"lab","type":"nominal"}}},
  {"data":{"name":"arrows"},
   "mark":{"type":"rule","strokeWidth":2.2,"color":"black"},
   "encoding":{
    "x":{"field":"t1","type":"quantitative","scale":{"domain":[44.08,48],"nice":false,"zero":false},"axis":null},
    "y":{"field":"y1","type":"quantitative","scale":{"domain":[0,1018],"nice":false,"zero":false},"axis":null},
    "x2":{"field":"t2"},"y2":{"field":"y2"}}},
  {"data":{"name":"arrows"},
   "transform":[{"calculate":"atan2(-(datum.t2-datum.t1)*103, datum.y1-datum.y2)*180/PI","as":"ang"}],
   "mark":{"type":"point","shape":"M0,0L-0.27,-1L0.27,-1Z","filled":true,"size":3400,"color":"black","opacity":1,"strokeWidth":0},
   "encoding":{
    "x":{"field":"t2","type":"quantitative","scale":{"domain":[44.08,48],"nice":false,"zero":false},"axis":null},
    "y":{"field":"y2","type":"quantitative","scale":{"domain":[0,1018],"nice":false,"zero":false},"axis":null},
    "angle":{"field":"ang","type":"quantitative","scale":null}}},
  {"data":{"name":"ins"},
   "mark":{"type":"line","clip":true,"strokeWidth":6,"strokeJoin":"round","strokeCap":"round"},
   "encoding":{
    "x":{"field":"t","type":"quantitative","scale":{"domain":[44.08,48],"nice":false,"zero":false},"axis":{"orient":"bottom","values":[46,48],"format":"d","tickSize":-22,"labelPadding":50,"labelFlush":false,"labelOverlap":false,"title":null}},
    "y":{"field":"y","type":"quantitative","scale":{"domain":[0,1018],"nice":false,"zero":false},"axis":null},
    "color":{"field":"s","type":"nominal","scale":{"domain":["0","0.01","0.02","0.03","0.04","0.05"],"range":["#000000","#ff0000","#0000ff","#008080","#ff00ff","#808000"]},"legend":null}}}
 ]}
]
}
